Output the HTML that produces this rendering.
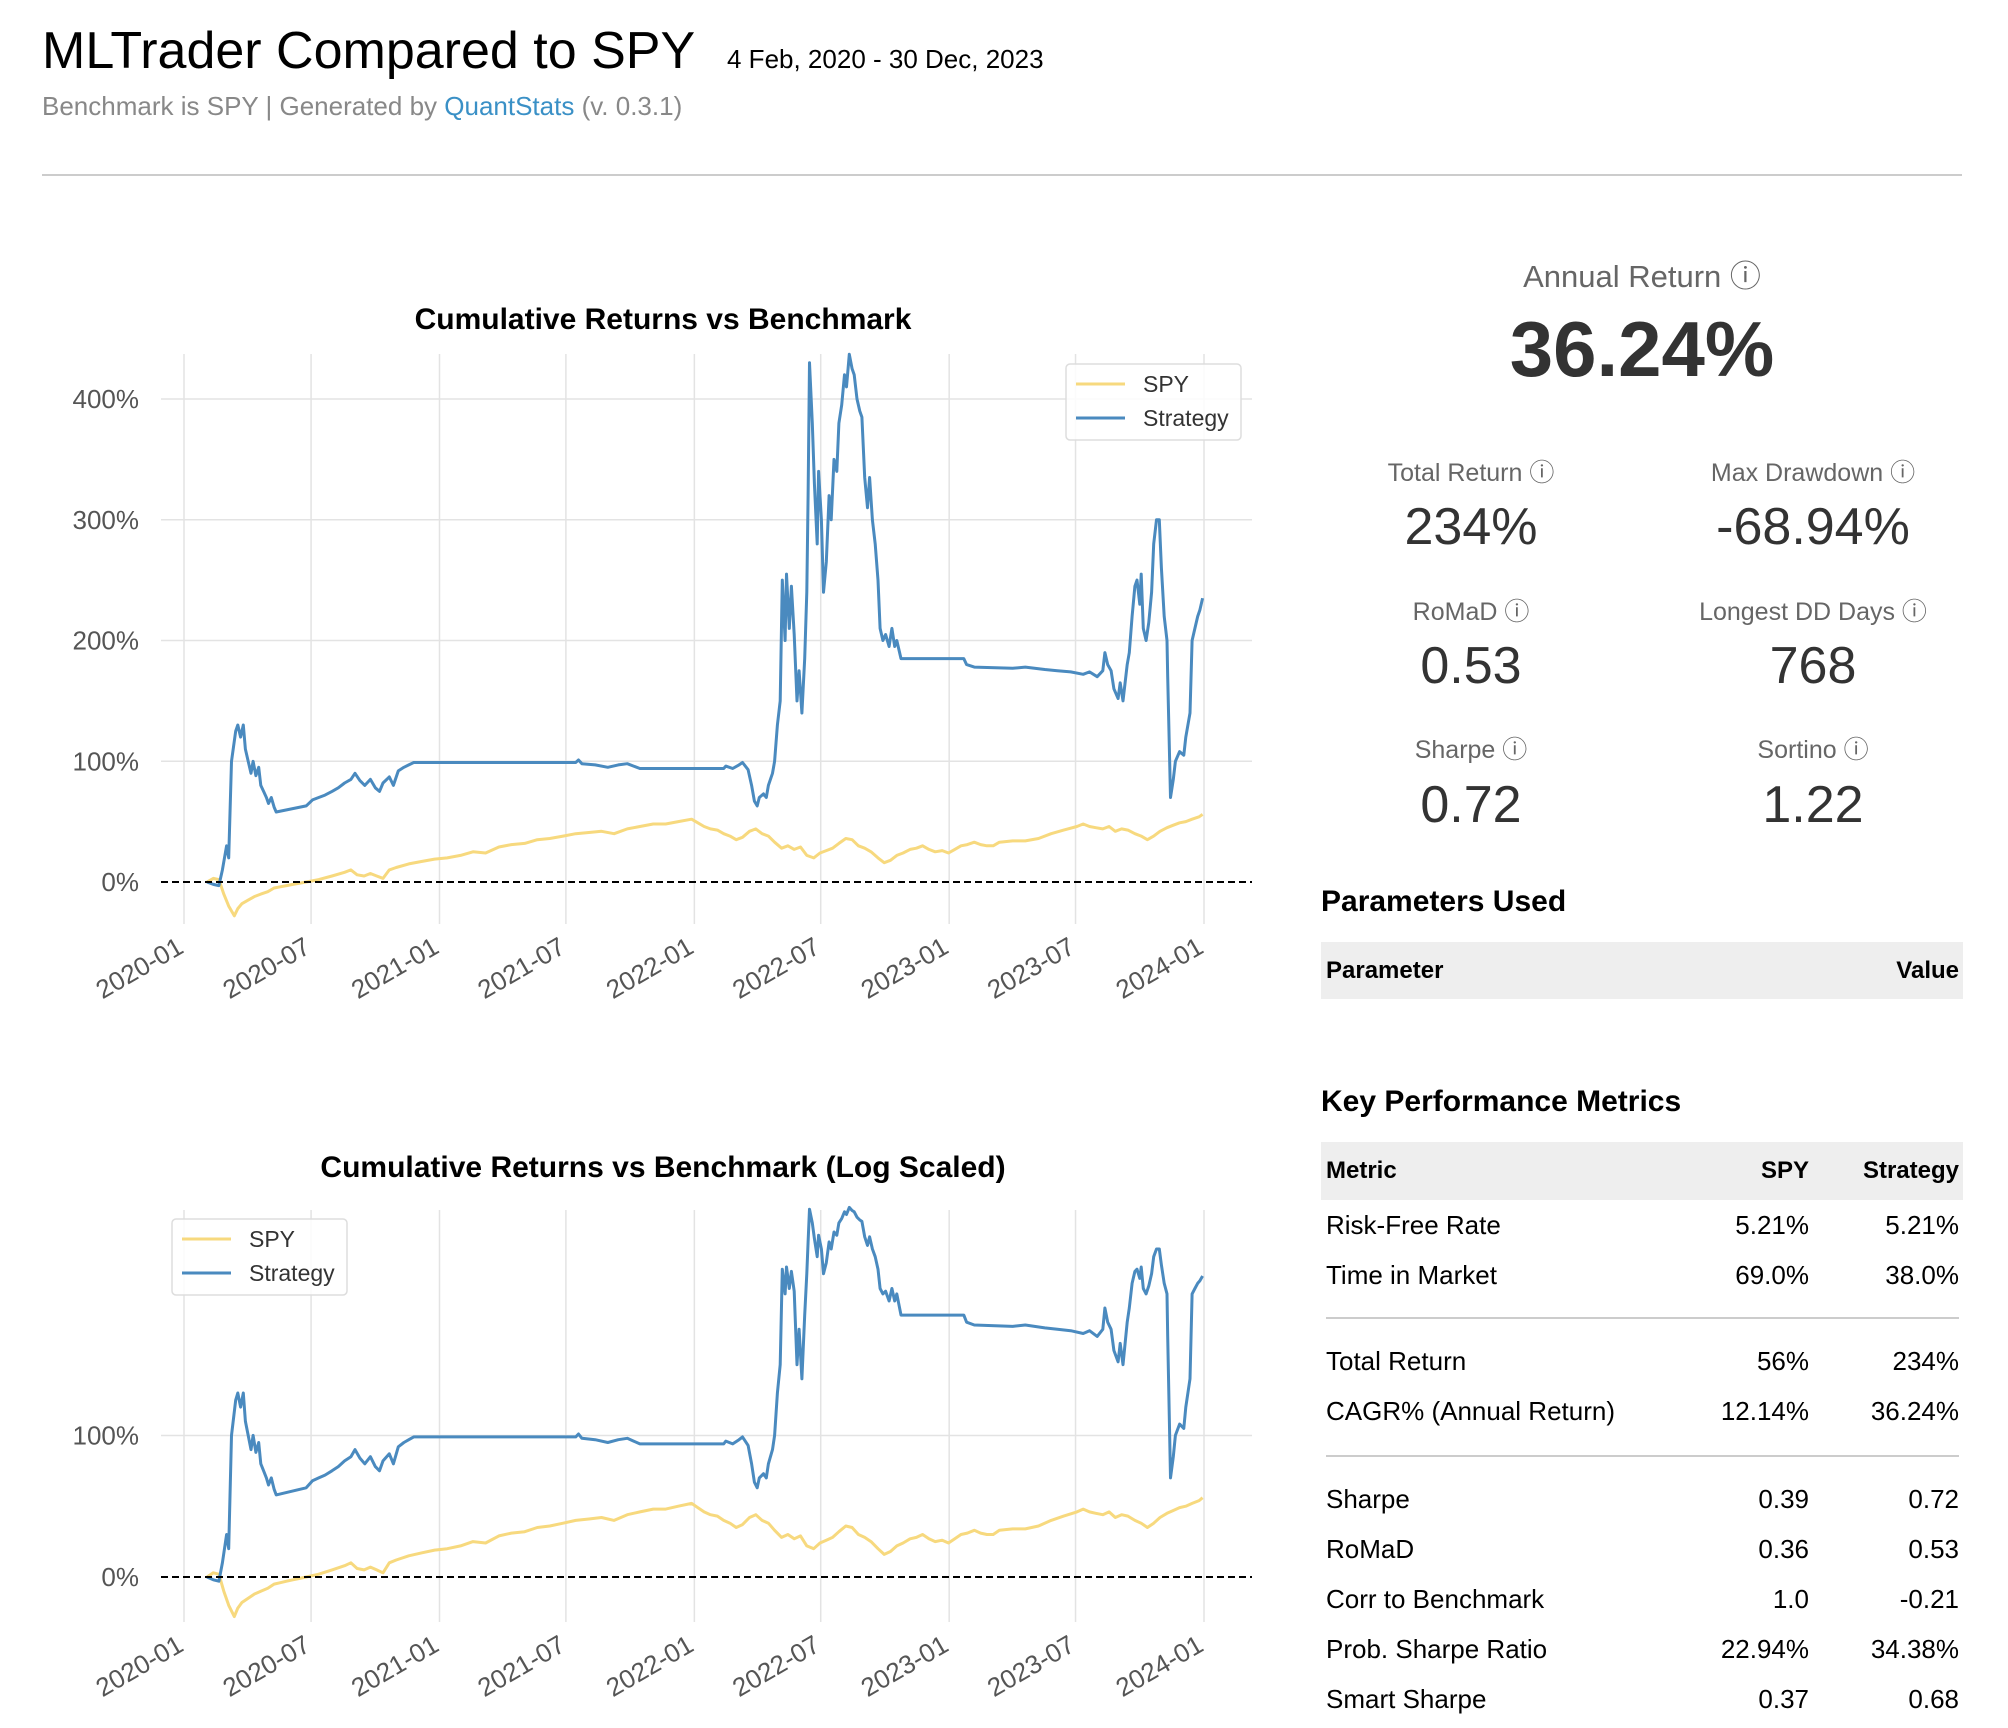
<!DOCTYPE html>
<html><head><meta charset="utf-8"><style>
body{margin:0;width:2008px;height:1728px;background:#fff;position:relative;overflow:hidden;font-family:"Liberation Sans",Arial,sans-serif;}
.a{position:absolute;white-space:nowrap;}
.lbl{color:#666;font-size:25px;transform:translateX(-50%);}
.val{color:#333;font-size:52px;transform:translateX(-50%);}
.row{position:absolute;left:1321px;width:642px;height:40px;font-size:26px;color:#000;}
.row span{position:absolute;top:0;line-height:40px;}
.hline{position:absolute;left:1326px;width:633px;height:1.5px;background:#ccc;}
</style></head><body>
<div class="a" style="left:42px;top:21px;font-size:52px;color:#000;">MLTrader Compared to SPY</div>
<div class="a" style="left:727px;top:44px;font-size:26px;color:#000;">4 Feb, 2020 - 30 Dec, 2023</div>
<div class="a" style="left:42px;top:91px;font-size:26px;color:#888;">Benchmark is SPY | Generated by <span style="color:#3a90c6">QuantStats</span> (v. 0.3.1)</div>
<div class="a" style="left:42px;top:174px;width:1920px;height:2px;background:#ccc;"></div>

<svg id="c1" class="a" style="left:0;top:0" width="1300" height="1728" font-family="Liberation Sans, Arial, sans-serif"></svg>
<svg id="c2" class="a" style="left:0;top:0" width="1300" height="1728" font-family="Liberation Sans, Arial, sans-serif"></svg>

<div class="a" style="left:1642px;top:251px;font-size:31px;color:#666;transform:translateX(-50%);">Annual Return ⓘ</div>
<div class="a" style="left:1642px;top:304px;font-size:78px;font-weight:bold;color:#333;transform:translateX(-50%);">36.24%</div>

<div class="a lbl" style="left:1471px;top:453px;">Total Return ⓘ</div>
<div class="a val" style="left:1471px;top:497px;">234%</div>
<div class="a lbl" style="left:1813px;top:453px;">Max Drawdown ⓘ</div>
<div class="a val" style="left:1813px;top:497px;">-68.94%</div>
<div class="a lbl" style="left:1471px;top:592px;">RoMaD ⓘ</div>
<div class="a val" style="left:1471px;top:636px;">0.53</div>
<div class="a lbl" style="left:1813px;top:592px;">Longest DD Days ⓘ</div>
<div class="a val" style="left:1813px;top:636px;">768</div>
<div class="a lbl" style="left:1471px;top:730px;">Sharpe ⓘ</div>
<div class="a val" style="left:1471px;top:775px;">0.72</div>
<div class="a lbl" style="left:1813px;top:730px;">Sortino ⓘ</div>
<div class="a val" style="left:1813px;top:775px;">1.22</div>

<div class="a" style="left:1321px;top:885px;font-size:30px;font-weight:bold;">Parameters Used</div>
<div class="row" style="top:942px;height:57px;background:#eee;font-weight:bold;font-size:24px;"><span style="left:5px;line-height:57px;">Parameter</span><span style="right:4px;line-height:57px;">Value</span></div>

<div class="a" style="left:1321px;top:1085px;font-size:30px;font-weight:bold;">Key Performance Metrics</div>
<div class="row" style="top:1142px;height:58px;background:#eee;font-weight:bold;font-size:24px;"><span style="left:5px;line-height:58px;">Metric</span><span style="right:154px;line-height:58px;">SPY</span><span style="right:4px;line-height:58px;">Strategy</span></div>

<div class="row" style="top:1205px"><span style="left:5px">Risk-Free Rate</span><span style="right:154px">5.21%</span><span style="right:4px">5.21%</span></div>
<div class="row" style="top:1255px"><span style="left:5px">Time in Market</span><span style="right:154px">69.0%</span><span style="right:4px">38.0%</span></div>
<div class="hline" style="top:1317px"></div>
<div class="row" style="top:1341px"><span style="left:5px">Total Return</span><span style="right:154px">56%</span><span style="right:4px">234%</span></div>
<div class="row" style="top:1391px"><span style="left:5px">CAGR% (Annual Return)</span><span style="right:154px">12.14%</span><span style="right:4px">36.24%</span></div>
<div class="hline" style="top:1455px"></div>
<div class="row" style="top:1479px"><span style="left:5px">Sharpe</span><span style="right:154px">0.39</span><span style="right:4px">0.72</span></div>
<div class="row" style="top:1529px"><span style="left:5px">RoMaD</span><span style="right:154px">0.36</span><span style="right:4px">0.53</span></div>
<div class="row" style="top:1579px"><span style="left:5px">Corr to Benchmark</span><span style="right:154px">1.0</span><span style="right:4px">-0.21</span></div>
<div class="row" style="top:1629px"><span style="left:5px">Prob. Sharpe Ratio</span><span style="right:154px">22.94%</span><span style="right:4px">34.38%</span></div>
<div class="row" style="top:1679px"><span style="left:5px">Smart Sharpe</span><span style="right:154px">0.37</span><span style="right:4px">0.68</span></div>

<script>
// days since 2020-01-01
const stratDays = [33,42,50,55,61,64,68,74,77,81,85,88,92,96,99,103,107,110,114,118,121,125,129,132,175,184,193,202,212,221,230,239,245,252,259,267,274,280,285,294,300,307,315,322,329,561,565,570,589,607,622,635,644,653,773,776,786,795,800,808,813,817,821,824,830,834,837,843,846,850,854,857,861,863,867,870,874,878,881,885,889,892,894,896,900,903,907,909,913,916,920,924,927,931,935,938,942,946,949,953,957,960,964,968,971,975,979,982,986,990,994,997,1001,1005,1010,1014,1018,1021,1027,1117,1121,1132,1187,1205,1233,1251,1270,1288,1297,1308,1316,1319,1323,1328,1332,1338,1341,1345,1351,1354,1358,1362,1365,1369,1371,1374,1378,1382,1386,1389,1393,1397,1400,1404,1408,1409,1413,1417,1420,1426,1432,1435,1441,1444,1448,1452,1455,1459];
const stratVals = [0,-2,-3,10,30,20,100,125,130,120,130,110,100,90,100,88,95,80,75,70,65,70,62,58,63,68,70,72,75,78,82,85,90,84,80,85,78,75,82,87,80,92,95,97,99,99,101,98,97,95,97,98,96,94,94,96,94,97,99,93,80,67,63,70,73,70,80,90,100,130,150,250,200,255,210,245,205,150,175,140,185,240,320,430,380,330,280,340,300,240,265,320,300,350,340,380,395,420,410,437,425,420,400,390,385,335,310,335,300,280,250,210,200,205,195,210,195,200,185,185,180,178,177,178,176,175,174,172,174,170,175,190,180,175,160,152,165,150,180,190,220,245,250,230,255,210,200,215,240,280,300,300,260,220,200,170,70,85,100,108,105,120,140,200,210,220,225,235];
const spyDays = [33,42,50,57,64,72,77,83,92,101,110,120,129,138,147,156,166,175,193,212,230,239,248,258,267,276,285,294,304,322,340,359,377,396,414,432,451,469,488,506,524,543,561,580,598,616,635,653,672,690,708,727,736,745,754,764,773,782,791,800,810,819,828,837,846,856,865,874,883,892,902,911,920,929,938,948,957,966,975,984,994,1003,1012,1021,1030,1040,1049,1058,1067,1076,1086,1095,1104,1113,1122,1132,1141,1150,1159,1168,1187,1205,1224,1242,1260,1279,1288,1297,1306,1316,1325,1334,1343,1352,1362,1371,1380,1389,1398,1408,1417,1426,1435,1444,1454,1459];
const spyVals = [0,3,2,-10,-20,-28,-22,-18,-15,-12,-10,-8,-5,-4,-3,-2,-1,0,2,5,8,10,6,5,7,5,3,10,12,15,17,19,20,22,25,24,29,31,32,35,36,38,40,41,42,40,44,46,48,48,50,52,49,46,44,43,40,38,35,37,42,44,40,38,33,28,30,27,29,22,20,24,26,28,32,36,35,30,28,25,20,16,18,22,24,27,28,30,27,25,26,24,27,30,31,33,31,30,30,33,34,34,36,40,43,46,48,46,45,44,46,42,44,43,40,38,35,38,42,45,47,49,50,52,54,56];
const xTickDays = [0,182,366,547,731,912,1096,1277,1461];
const xTickLabels = ["2020-01","2020-07","2021-01","2021-07","2022-01","2022-07","2023-01","2023-07","2024-01"];
const linTicks = [0,100,200,300,400];
const logTicks = [0,100];

const NS="http://www.w3.org/2000/svg";
function mk(svg,tag,attrs,text){const e=document.createElementNS(NS,tag);for(const k in attrs)e.setAttribute(k,attrs[k]);if(text!==undefined)e.textContent=text;svg.appendChild(e);return e;}
const xS=d=>184+d*(1204-184)/1461;
// matplotlib symlog (linthresh=2, linscale=1, base=10) on fractional returns
function symlog(v){const f=v/100,la=1/(1-1/10);const a=Math.abs(f);
  return a<=2?f*la:Math.sign(f)*2*(la+Math.log10(a/2));}

function drawChart(svg,cfg){
  xTickDays.forEach((d,i)=>{
    const g=mk(svg,'line',{x1:xS(d),x2:xS(d),y1:cfg.top,y2:cfg.bottom,stroke:'#e3e3e3','stroke-width':1.5});
    
    
    const t=mk(svg,'text',{transform:`translate(${xS(d)-8},${cfg.bottom+12}) rotate(-30)`,'text-anchor':'end','font-size':26,fill:'#555',dy:'0.7em'},xTickLabels[i]);
    
    
  });
  cfg.ticks.forEach(v=>{
    const y=cfg.yS(v);
    if(v!==0){const g=mk(svg,'line',{x1:161,x2:1252,y1:y,y2:y,stroke:'#e3e3e3','stroke-width':1.5});
      
      }
    const t=mk(svg,'text',{x:139,y:y+9,'text-anchor':'end','font-size':26,fill:'#555'},v+'%');
    
    
  });
  const p=(days,vals)=>days.map((d,i)=>(i?'L':'M')+xS(d).toFixed(1)+','+cfg.yS(vals[i]).toFixed(1)).join('');
  const s1=mk(svg,'path',{d:p(spyDays,spyVals),fill:'none',stroke:'#f7d97e','stroke-width':3,'stroke-linejoin':'round'});
  
  
  const s2=mk(svg,'path',{d:p(stratDays,stratVals),fill:'none',stroke:'#4a8abf','stroke-width':3,'stroke-linejoin':'round'});
  
  
  const z=mk(svg,'line',{x1:161,x2:1252,y1:cfg.yS(0),y2:cfg.yS(0),stroke:'#000','stroke-width':2,'stroke-dasharray':'7,4'});
  
  
  const ti=mk(svg,'text',{x:663,y:cfg.titleY,'text-anchor':'middle','font-size':30,'font-weight':'bold',fill:'#000'},cfg.title);
  
  
  const L=cfg.legend;
  const lb=mk(svg,'rect',{x:L.x,y:L.y,width:175,height:76,rx:4,fill:'#fff','fill-opacity':0.85,stroke:'#ddd','stroke-width':1.5});
  
  
  [['SPY','#f7d97e',20],['Strategy','#4a8abf',54]].forEach(([n,c,dy])=>{
    const l=mk(svg,'line',{x1:L.x+10,x2:L.x+59,y1:L.y+dy,y2:L.y+dy,stroke:c,'stroke-width':3});
    
    
    const t=mk(svg,'text',{x:L.x+77,y:L.y+dy+8,'font-size':23,fill:'#333'},n);
    
    
  });
}
drawChart(document.getElementById('c1'),{top:354,bottom:924,ticks:linTicks,yS:v=>882-v*1.2075,titleY:329,title:'Cumulative Returns vs Benchmark',legend:{x:1066,y:364}});
drawChart(document.getElementById('c2'),{top:1210,bottom:1622,ticks:logTicks,yS:v=>1577-symlog(v)*127.4,titleY:1177,title:'Cumulative Returns vs Benchmark (Log Scaled)',legend:{x:172,y:1219}});
</script>
</body></html>
